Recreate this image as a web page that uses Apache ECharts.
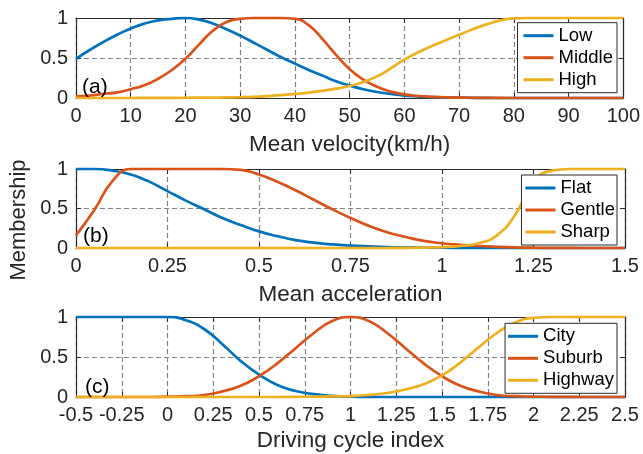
<!DOCTYPE html>
<html>
<head>
<meta charset="utf-8">
<script src="https://cdn.jsdelivr.net/npm/echarts@6/dist/echarts.min.js"></script>
<style>
html,body{margin:0;padding:0;background:#fff;}
#chart{width:643px;height:454px;}
</style>
</head>
<body>
<div id="chart"></div>
<script>
// ---- data ----
const velX = [0,2.5,5,7.5,10,12.5,15,17.5,20,22.5,25,27.5,30,32.5,35,37.5,40,42.5,45,47.5,50,52.5,55,57.5,60,62.5,65,67.5,70,72.5,75,77.5,80,82.5,85,87.5,90,92.5,95,97.5,100];
const lowV = [0.49,0.60,0.70,0.79,0.87,0.93,0.97,0.99,1.00,0.98,0.93,0.86,0.78,0.69,0.60,0.51,0.43,0.35,0.28,0.21,0.155,0.11,0.075,0.05,0.03,0.02,0.012,0.007,0.004,0.002,0.001,0,0,0,0,0,0,0,0,0,0];
const middleV = [0.02,0.03,0.05,0.07,0.11,0.16,0.24,0.35,0.49,0.67,0.84,0.95,0.99,1.0,1.0,1.0,0.99,0.91,0.74,0.54,0.36,0.23,0.14,0.08,0.045,0.025,0.015,0.008,0.005,0.003,0.002,0.001,0,0,0,0,0,0,0,0,0];
const highV = [0,0,0,0,0,0.001,0.001,0.002,0.003,0.004,0.005,0.007,0.01,0.015,0.024,0.035,0.05,0.068,0.09,0.117,0.15,0.2,0.27,0.37,0.48,0.57,0.65,0.72,0.79,0.86,0.92,0.97,0.995,1,1,1,1,1,1,1,1];

const accX = [0,0.05,0.1,0.15,0.2,0.25,0.3,0.35,0.4,0.45,0.5,0.55,0.6,0.65,0.7,0.75,0.8,0.85,0.9,0.95,1.0,1.05,1.1,1.15,1.2,1.25,1.3,1.35,1.4,1.45,1.5];
const flatV = [1,1,0.98,0.93,0.84,0.72,0.6,0.49,0.38,0.29,0.21,0.15,0.1,0.068,0.045,0.03,0.02,0.012,0.008,0.005,0.003,0.002,0.001,0,0,0,0,0,0,0,0];
const gentleV = [0.16,0.48,0.85,1,1,1,1,1,1,0.99,0.93,0.84,0.73,0.61,0.49,0.38,0.28,0.2,0.14,0.09,0.06,0.04,0.025,0.015,0.008,0.004,0.002,0.001,0,0,0];
const sharpV = [0,0,0,0,0,0,0,0,0,0,0,0,0,0,0,0,0,0,0.002,0.005,0.01,0.025,0.06,0.16,0.42,0.84,0.98,1,1,1,1];

const cycX = [-0.5,-0.4,-0.3,-0.2,-0.1,0,0.1,0.2,0.3,0.4,0.5,0.6,0.7,0.8,0.9,1.0,1.1,1.2,1.3,1.4,1.5,1.6,1.7,1.8,1.9,2.0,2.1,2.2,2.3,2.4,2.5];
const cityV = [1,1,1,1,1,1,0.96,0.85,0.66,0.45,0.28,0.15,0.075,0.035,0.015,0.005,0.001,0,0,0,0,0,0,0,0,0,0,0,0,0,0];
const suburbV = [0,0,0,0,0,0.005,0.01,0.025,0.07,0.14,0.26,0.42,0.61,0.8,0.95,1,0.95,0.8,0.61,0.42,0.26,0.14,0.07,0.025,0.01,0.005,0.002,0.001,0,0,0];
const highwayV = [0,0,0,0,0,0,0,0,0,0,0,0,0.002,0.004,0.007,0.012,0.025,0.05,0.095,0.16,0.27,0.43,0.62,0.8,0.93,0.99,1,1,1,1,1];

const namesA = ['Low','Middle','High'];
const namesB = ['Flat','Gentle','Sharp'];
const namesC = ['City','Suburb','Highway'];
const axisTitles = ['Mean velocity(km/h)','Mean acceleration','Driving cycle index'];
const yTitle = 'Membership';
const panelTags = ['(a)','(b)','(c)'];

// ---- styling ----
const FONT = "'Liberation Sans', Arial, Helvetica, sans-serif";
const COLORS = ['#0072BD','#D95319','#EDB120'];
const AXC = '#2b2b2b';
const TXT = '#262626';

const grids = [
  {left:76, right:18, top:18, height:80},
  {left:76, right:18, top:169, height:79},
  {left:76, right:18, top:317, height:80}
];
const xRanges = [
  {min:0, max:100, interval:10, gap:35},
  {min:0, max:1.5, interval:0.25, gap:35},
  {min:-0.5, max:2.5, interval:0.25, gap:32.5}
];

const xAxis = [], yAxis = [];
grids.forEach((g, i) => {
  const r = xRanges[i];
  xAxis.push({
    type:'value', gridIndex:i, position:'bottom', min:r.min, max:r.max, interval:r.interval,
    name:axisTitles[i], nameLocation:'middle', nameGap:r.gap,
    nameTextStyle:{fontSize:22.5, color:TXT, fontFamily:FONT},
    axisLine:{show:true, onZero:false, lineStyle:{color:AXC, width:1.2}},
    axisTick:{show:true, inside:true, length:5, lineStyle:{color:AXC, width:1}},
    axisLabel:{fontSize:20, color:TXT, fontFamily:FONT, margin:8.5, showMinLabel:true, showMaxLabel:true, hideOverlap:false},
    splitLine:{show:true, lineStyle:{color:'#808080', type:[5,3], width:1.2}}
  });
  xAxis.push({
    type:'value', gridIndex:i, position:'top', min:r.min, max:r.max, interval:r.interval,
    axisLine:{show:true, onZero:false, lineStyle:{color:AXC, width:1.2}},
    axisTick:{show:true, inside:true, length:5, lineStyle:{color:AXC, width:1}},
    axisLabel:{show:false}, splitLine:{show:false}
  });
  yAxis.push({
    type:'value', gridIndex:i, position:'left', min:0, max:1, interval:0.5,
    axisLine:{show:true, onZero:false, lineStyle:{color:AXC, width:1.2}},
    axisTick:{show:true, inside:true, length:5, lineStyle:{color:AXC, width:1}},
    axisLabel:{fontSize:20, color:TXT, fontFamily:FONT, margin:8},
    splitLine:{show:true, lineStyle:{color:'#808080', type:[5,3], width:1.2}}
  });
  yAxis.push({
    type:'value', gridIndex:i, position:'right', min:0, max:1, interval:0.5,
    axisLine:{show:true, onZero:false, lineStyle:{color:AXC, width:1.2}},
    axisTick:{show:true, inside:true, length:5, lineStyle:{color:AXC, width:1}},
    axisLabel:{show:false}, splitLine:{show:false}
  });
});

function mk(name, xs, ys, gi, ci) {
  return {
    type:'line', name:name, xAxisIndex:2*gi, yAxisIndex:2*gi,
    data: xs.map((x,k) => [x, ys[k]]),
    showSymbol:false, smooth:0.5, clip:false, silent:true,
    lineStyle:{width:2.7, color:COLORS[ci]}, itemStyle:{color:COLORS[ci]},
    z:3
  };
}
const series = [
  mk(namesA[0], velX, lowV, 0, 0), mk(namesA[1], velX, middleV, 0, 1), mk(namesA[2], velX, highV, 0, 2),
  mk(namesB[0], accX, flatV, 1, 0), mk(namesB[1], accX, gentleV, 1, 1), mk(namesB[2], accX, sharpV, 1, 2),
  mk(namesC[0], cycX, cityV, 2, 0), mk(namesC[1], cycX, suburbV, 2, 1), mk(namesC[2], cycX, highwayV, 2, 2)
];

function legend(data, top, pad) {
  return {
    data:data, orient:'vertical', right:26, top:top, padding:pad,
    icon:'rect', itemWidth:30, itemHeight:3, itemGap:0,
    backgroundColor:'#fff', borderColor:AXC, borderWidth:1, borderRadius:0,
    textStyle:{fontSize:18.5, color:'#000', fontFamily:FONT, lineHeight:22},
    selectedMode:false, z:10
  };
}

const option = {
  animation:false,
  backgroundColor:'#fff',
  grid:grids, xAxis:xAxis, yAxis:yAxis, series:series,
  legend:[
    legend(namesA, 22.7, [2,4,2,6]),
    legend(namesB, 175, [2,2,2,4]),
    legend(namesC, 323.3, [2,3,2,3])
  ],
  graphic:[
    {type:'text', x:82, y:87, z:20, style:{text:panelTags[0], fontSize:21, fontFamily:FONT, fill:'#000', align:'left', verticalAlign:'middle'}},
    {type:'text', x:83, y:236, z:20, style:{text:panelTags[1], fontSize:21, fontFamily:FONT, fill:'#000', align:'left', verticalAlign:'middle'}},
    {type:'text', x:85, y:387, z:20, style:{text:panelTags[2], fontSize:21, fontFamily:FONT, fill:'#000', align:'left', verticalAlign:'middle'}},
    {type:'text', x:18.5, y:220, rotation:Math.PI/2, z:20, style:{text:yTitle, fontSize:22, fontFamily:FONT, fill:TXT, align:'center', verticalAlign:'middle'}}
  ]
};

const chart = echarts.init(document.getElementById('chart'), null, {renderer:'canvas'});
chart.setOption(option);
</script>
</body>
</html>
